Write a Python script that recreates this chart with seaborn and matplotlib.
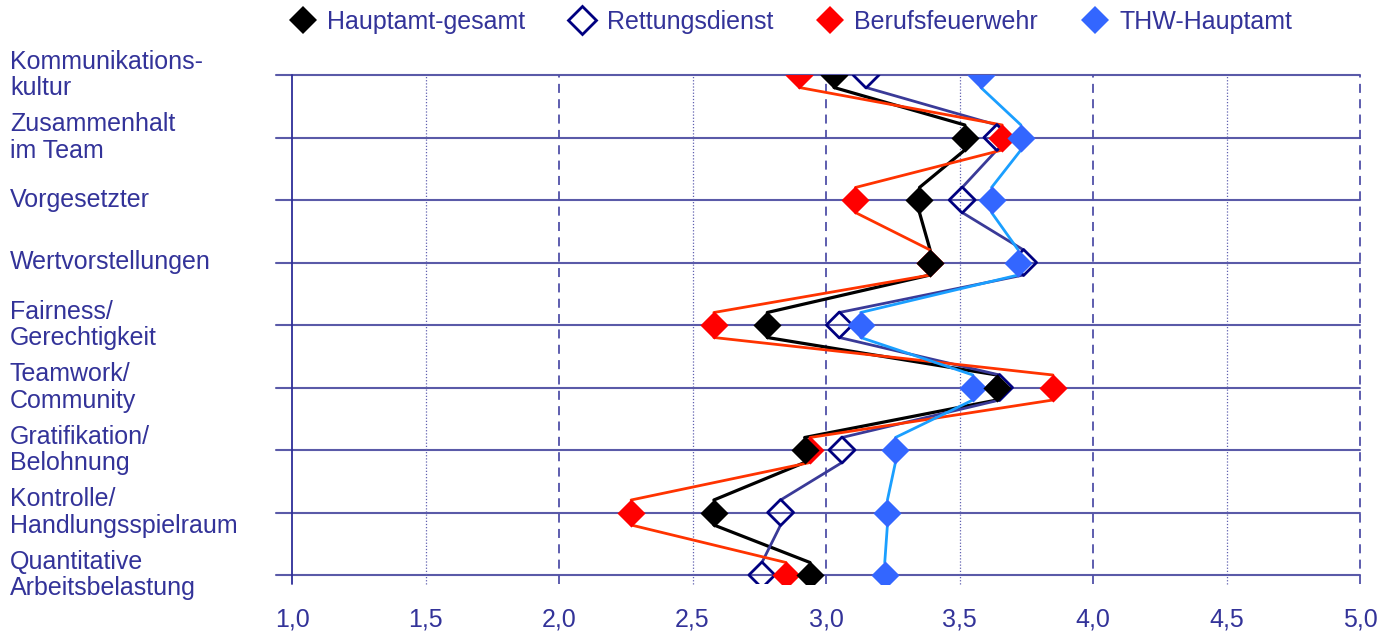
import matplotlib
matplotlib.use("Agg")
import matplotlib.pyplot as plt
import matplotlib.transforms as mtransforms
from matplotlib.lines import Line2D
import numpy as np
import pandas as pd
import seaborn as sns

# ---- data -------------------------------------------------------------
categories = [
    "Kommunikations-\nkultur",
    "Zusammenhalt\nim Team",
    "Vorgesetzter",
    "Wertvorstellungen",
    "Fairness/\nGerechtigkeit",
    "Teamwork/\nCommunity",
    "Gratifikation/\nBelohnung",
    "Kontrolle/\nHandlungsspielraum",
    "Quantitative\nArbeitsbelastung",
]
hauptamt_gesamt = [3.03, 3.52, 3.35, 3.39, 2.78, 3.64, 2.92, 2.58, 2.94]
rettungsdienst = [3.15, 3.64, 3.51, 3.74, 3.05, 3.65, 3.06, 2.83, 2.76]
berufsfeuerwehr = [2.90, 3.66, 3.11, 3.39, 2.58, 3.85, 2.94, 2.27, 2.85]
thw_hauptamt = [3.58, 3.73, 3.62, 3.72, 3.13, 3.55, 3.26, 3.23, 3.22]
series_names = ["Hauptamt-gesamt", "Rettungsdienst", "Berufsfeuerwehr", "THW-Hauptamt"]
x_ticks = [1.0, 1.5, 2.0, 2.5, 3.0, 3.5, 4.0, 4.5, 5.0]
x_tick_labels = ["1,0", "1,5", "2,0", "2,5", "3,0", "3,5", "4,0", "4,5", "5,0"]

# ---- styling ------------------------------------------------------------
sns.set_theme(style="white")
plt.rcParams["font.family"] = ["Liberation Sans", "DejaVu Sans"]
TEXT = "#333399"
GRID = "#5a5aa8"
FS = 18

styles = {
    "Hauptamt-gesamt": dict(face="black", edge="black", line="black", lw=2.3),
    "Rettungsdienst": dict(face="none", edge="#000080", line="#3a3a98", lw=2.0),
    "Berufsfeuerwehr": dict(face="#ff0000", edge="#ff0000", line="#ff3300", lw=2.0),
    "THW-Hauptamt": dict(face="#3366ff", edge="#3366ff", line="#1a9fff", lw=2.0),
}
values = dict(zip(series_names, [hauptamt_gesamt, rettungsdienst, berufsfeuerwehr, thw_hauptamt]))

fig = plt.figure(figsize=(13.77, 6.35), dpi=100)
ax = fig.add_axes([276 / 1377, 51 / 635, 1084 / 1377, 509 / 635])
ax.set_xlim(0.94, 5.0)
ax.set_ylim(8.144, 0)
for s in ax.spines.values():
    s.set_visible(False)

# grid: solid rows, alternating dashed / dotted value lines
for i in range(len(categories)):
    ax.axhline(i, color=GRID, lw=1.5, zorder=1, clip_on=False)
for xv in x_ticks:
    if xv == 1.0:
        ax.axvline(xv, color="#2e2e99", lw=1.3, zorder=1, clip_on=False)
    elif float(xv).is_integer():
        ax.axvline(xv, color="#5050a8", lw=1.3, ls=(0, (5, 3.5)), zorder=1, clip_on=False)
    else:
        ax.axvline(xv, color="#6060b0", lw=0.9, ls=(0, (1, 1.5)), zorder=1, clip_on=False)

# connecting lines: each segment leaves just below one row and enters just above the next
delta = 0.2
rows = []
for name in series_names:
    v = values[name]
    for i in range(len(v) - 1):
        rows.append(dict(series=name, seg=i, x=v[i], y=i + delta))
        rows.append(dict(series=name, seg=i, x=v[i + 1], y=i + 1 - delta))
seg_df = pd.DataFrame(rows)
for name in series_names:
    st = styles[name]
    sns.lineplot(data=seg_df[seg_df.series == name], x="x", y="y", units="seg",
                 estimator=None, sort=False, color=st["line"], lw=st["lw"],
                 ax=ax, zorder=2, legend=False)

# markers
pts = pd.DataFrame([dict(series=n, x=val, y=i)
                    for n in series_names for i, val in enumerate(values[n])])
for name in ["Rettungsdienst", "Berufsfeuerwehr", "THW-Hauptamt", "Hauptamt-gesamt"]:
    st = styles[name]
    sub = pts[pts.series == name]
    if st["face"] == "none":
        sns.scatterplot(data=sub, x="x", y="y", marker="D", s=175, facecolors="none",
                        edgecolor=st["edge"], linewidth=2.0, ax=ax, zorder=3, legend=False)
    else:
        sns.scatterplot(data=sub, x="x", y="y", marker="D", s=205, color=st["face"],
                        edgecolor=st["edge"], linewidth=0, ax=ax, zorder=3, legend=False)

ax.set_xlabel("")
ax.set_ylabel("")
ax.set_xticks(x_ticks)
ax.set_xticklabels(x_tick_labels, color=TEXT, fontsize=FS)
ax.set_yticks([])
ax.tick_params(axis="x", length=0, pad=17)

# category labels at the left edge of the figure
trans = mtransforms.blended_transform_factory(fig.transFigure, ax.transData)
for i, lab in enumerate(categories):
    ax.text(10 / 1377, i, lab, transform=trans, ha="left", va="center",
            fontsize=FS, color=TEXT, linespacing=1.15, clip_on=False)

# legend
handles = []
for name in series_names:
    st = styles[name]
    handles.append(Line2D([], [], ls="none", marker="D", markersize=14,
                          markerfacecolor=st["face"], markeredgecolor=st["edge"],
                          markeredgewidth=2.0 if st["face"] == "none" else 0))
leg = fig.legend(handles, series_names, loc="center", bbox_to_anchor=(0.574, 0.966),
                 ncol=4, frameon=False, fontsize=FS, handlelength=1.15,
                 handletextpad=0.4, columnspacing=1.7, borderpad=0)
for t in leg.get_texts():
    t.set_color(TEXT)

fig.savefig("out.png", dpi=100)
